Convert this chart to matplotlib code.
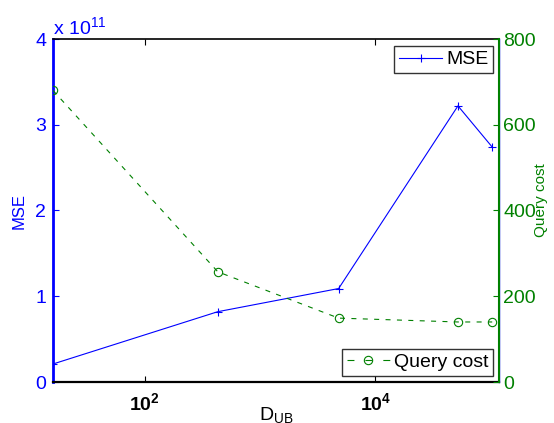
import math
import matplotlib
matplotlib.use("Agg")
import matplotlib.pyplot as plt
from matplotlib.ticker import FixedLocator, FuncFormatter, NullLocator
from matplotlib.lines import Line2D

# Upper bound on the search distance
d_ub = [16, 430, 4800, 52000, 103000]
# Mean squared error of the estimate
mse = [0.21e11, 0.82e11, 1.09e11, 3.22e11, 2.74e11]
# Number of queries issued
query_cost = [680, 257, 149, 140, 140]

mse_ticks = [0, 1e11, 2e11, 3e11, 4e11]
cost_ticks = [0, 200, 400, 600, 800]
x_ticks = [1e2, 1e4]

BLUE = (0, 0, 1)
GREEN = (0, 0.5, 0)
FS = 14

plt.rcParams['font.family'] = ['Liberation Sans', 'DejaVu Sans']
plt.rcParams['lines.scale_dashes'] = False
plt.rcParams['mathtext.fontset'] = 'custom'
plt.rcParams['mathtext.rm'] = 'Liberation Sans'
plt.rcParams['mathtext.it'] = 'Liberation Sans'
plt.rcParams['mathtext.bf'] = 'Liberation Sans:bold'

fig = plt.figure(figsize=(5.54, 4.23), dpi=100)
ax = fig.add_axes([53 / 554, 1 - 382 / 423, 446 / 554, 343 / 423])
ax2 = ax.twinx()

ax.set_xscale('log')
ax.set_xlim(16, 118000)
ax.set_ylim(0, 4e11)
ax2.set_ylim(0, 800)

DASH = (0, (3.6, 4.6))
ax.plot(d_ub, mse, color=BLUE, lw=0.8, marker='+', ms=6, mew=0.8)
ax2.plot(d_ub, query_cost, color=GREEN, lw=0.8, ls=DASH,
         marker='o', ms=6, mew=0.8, mfc='none')

# Axis ticks
ax.xaxis.set_major_locator(FixedLocator(x_ticks))
ax.xaxis.set_minor_locator(NullLocator())
ax.xaxis.set_major_formatter(
    FuncFormatter(lambda v, p: r'$\mathbf{10^{%d}}$' % round(math.log10(v))))
ax.yaxis.set_major_locator(FixedLocator(mse_ticks))
ax.yaxis.set_major_formatter(FuncFormatter(lambda v, p: f'{v / 1e11:g}'))
ax2.yaxis.set_major_locator(FixedLocator(cost_ticks))

ax.tick_params(axis='x', direction='in', top=True, length=4, width=0.8,
               labelsize=FS, colors='black', pad=7)
ax.tick_params(axis='y', direction='in', length=4, width=0.8,
               labelsize=FS, colors=BLUE, pad=5)
ax2.tick_params(axis='y', direction='in', length=4, width=0.8,
                labelsize=FS, colors=GREEN, pad=3)

ax.spines['top'].set_linewidth(1.2)
ax.spines['bottom'].set_linewidth(1.6)
ax.spines['left'].set_color(BLUE)
ax.spines['left'].set_linewidth(2)
ax.spines['right'].set_color(BLUE)
ax.spines['right'].set_linewidth(1)
ax2.spines['right'].set_color(GREEN)
ax2.spines['right'].set_linewidth(1.5)
for s in ('left', 'top', 'bottom'):
    ax2.spines[s].set_visible(False)

# Labels
fig.text(19 / 554, 1 - 211 / 423, 'MSE', rotation=90, color=BLUE,
         fontsize=12, ha='center', va='center')
fig.text(541 / 554, 1 - 200 / 423, 'Query cost', rotation=90, color=GREEN,
         fontsize=11, ha='center', va='center')
fig.text(53 / 554, 1 - 27 / 423, r'x 10$^{11}$', color=BLUE, fontsize=FS,
         ha='left', va='center')
fig.text(276 / 554, 1 - 415 / 423, r'D$_{\mathrm{UB}}$', color='black',
         fontsize=FS, ha='center', va='center')

# Legends
h1 = Line2D([], [], color=BLUE, lw=0.8, marker='+', ms=6, mew=0.8)
leg1 = ax2.legend([h1], ['MSE'], loc='upper right', fontsize=FS,
                  frameon=True, fancybox=False, edgecolor='black',
                  borderpad=0.25, handlelength=2.2, handletextpad=0.2,
                  borderaxespad=0, bbox_to_anchor=(493 / 554, 1 - 46 / 423),
                  bbox_transform=fig.transFigure)
leg1.get_frame().set_linewidth(1.0)
ax2.add_artist(leg1)
h2 = Line2D([], [], color=GREEN, lw=0.8, ls=(0, (5.0, 7.9)),
            marker='o', ms=6, mew=0.8, mfc='none')
leg2 = ax2.legend([h2], ['Query cost'], loc='lower right', fontsize=FS,
                  frameon=True, fancybox=False, edgecolor='black',
                  borderpad=0.25, handlelength=2.2, handletextpad=0.2,
                  borderaxespad=0, bbox_to_anchor=(493 / 554, 1 - 376 / 423),
                  bbox_transform=fig.transFigure)
leg2.get_frame().set_linewidth(1.0)

fig.savefig('out.png', dpi=100)
